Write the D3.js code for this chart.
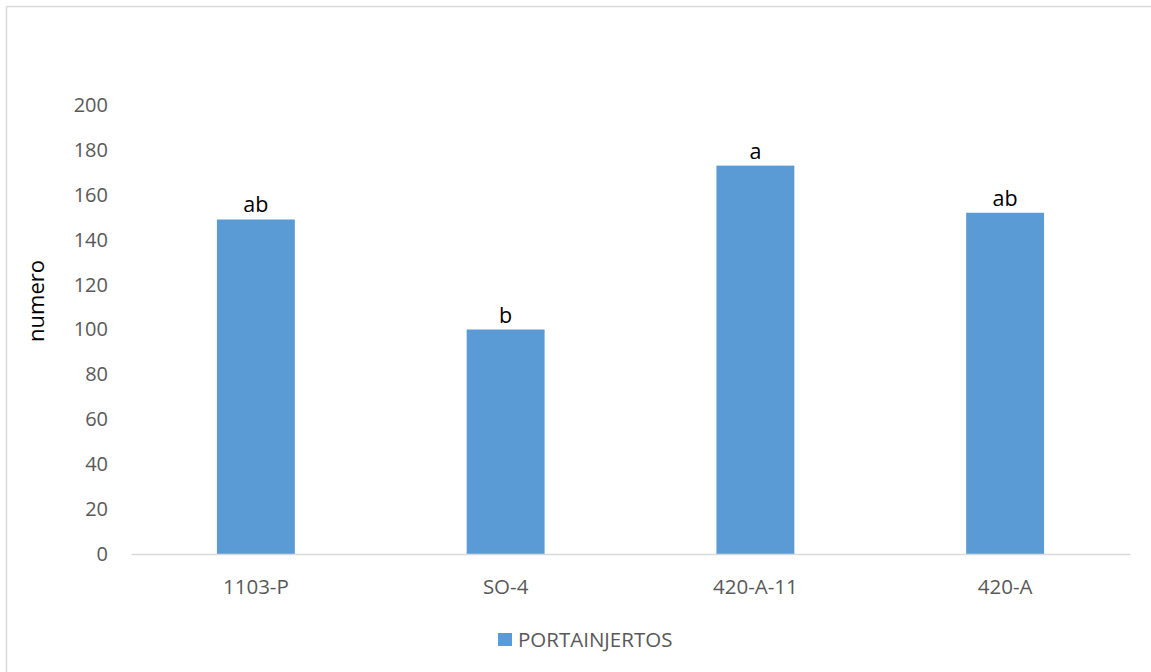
<!DOCTYPE html>
<html>
<head>
<meta charset="utf-8">
<script src="https://cdn.jsdelivr.net/npm/d3@7"></script>
<style>
  html, body { margin: 0; padding: 0; background: #fff; }
  svg text { font-family: "Open Sans", "Liberation Sans", sans-serif; }
</style>
</head>
<body>
<svg id="chart" width="1151" height="672"></svg>
<script>
// Rootstock names, counts and significance letters
const categories = ["1103-P", "SO-4", "420-A-11", "420-A"];
const values = [149, 100, 173, 152];
const letters = ["ab", "b", "a", "ab"];
const yTicks = [0, 20, 40, 60, 80, 100, 120, 140, 160, 180, 200];
const seriesName = "PORTAINJERTOS";
const yTitle = "numero";

const svg = d3.select("#chart");
const W = 1151, H = 672;
const plot = { left: 131, right: 1130, top: 105, bottom: 554 };
const barColor = "#5B9BD5";
const tickColor = "#595959";

// outer frame (top and left edges visible)
svg.append("line").attr("x1", 6.5).attr("x2", W).attr("y1", 6.5).attr("y2", 6.5)
  .attr("stroke", "#d9d9d9").attr("stroke-width", 1.5);
svg.append("line").attr("x1", 6.5).attr("x2", 6.5).attr("y1", 6.5).attr("y2", H)
  .attr("stroke", "#d9d9d9").attr("stroke-width", 1.5);

const x = d3.scaleBand().domain(categories).range([plot.left, plot.right]).padding(0);
const y = d3.scaleLinear().domain([0, 200]).range([plot.bottom, plot.top]);
const barW = x.bandwidth() * 0.312;

// y tick labels
const yAxis = svg.append("g").attr("transform", `translate(${plot.left},0)`)
  .call(d3.axisLeft(y).tickValues(yTicks).tickSize(0).tickPadding(23));
yAxis.select(".domain").remove();
yAxis.selectAll("text").attr("fill", tickColor).style("font-size", "20px");

// bars
svg.selectAll("rect.bar").data(values).enter().append("rect")
  .attr("class", "bar")
  .attr("x", (d, i) => x(categories[i]) + x.bandwidth() / 2 - barW / 2)
  .attr("width", barW)
  .attr("y", d => y(d))
  .attr("height", d => y(0) - y(d))
  .attr("fill", barColor);

// x axis baseline and labels
const xAxis = svg.append("g").attr("transform", `translate(0,${plot.bottom})`)
  .call(d3.axisBottom(x).tickSize(0).tickPadding(25));
xAxis.select(".domain").attr("stroke", "#d9d9d9").attr("stroke-width", 1.5);
xAxis.selectAll("text").attr("fill", tickColor).style("font-size", "20.5px");

// significance letters
svg.selectAll("text.letter").data(values).enter().append("text")
  .attr("class", "letter")
  .attr("x", (d, i) => x(categories[i]) + x.bandwidth() / 2)
  .attr("y", d => y(d) - 7)
  .attr("text-anchor", "middle")
  .attr("fill", "#000")
  .style("font-size", "21.5px")
  .text((d, i) => letters[i]);

// y axis title
svg.append("text")
  .attr("transform", "translate(44,301) rotate(-90)")
  .attr("text-anchor", "middle")
  .attr("fill", "#000")
  .style("font-size", "22px")
  .text(yTitle);

// legend
const lg = svg.append("g").attr("transform", "translate(498,633)");
lg.append("rect").attr("width", 14).attr("height", 13).attr("fill", barColor);
lg.append("text").attr("x", 20).attr("y", 13.5).attr("fill", tickColor)
  .style("font-size", "20.5px").text(seriesName);
</script>
</body>
</html>
